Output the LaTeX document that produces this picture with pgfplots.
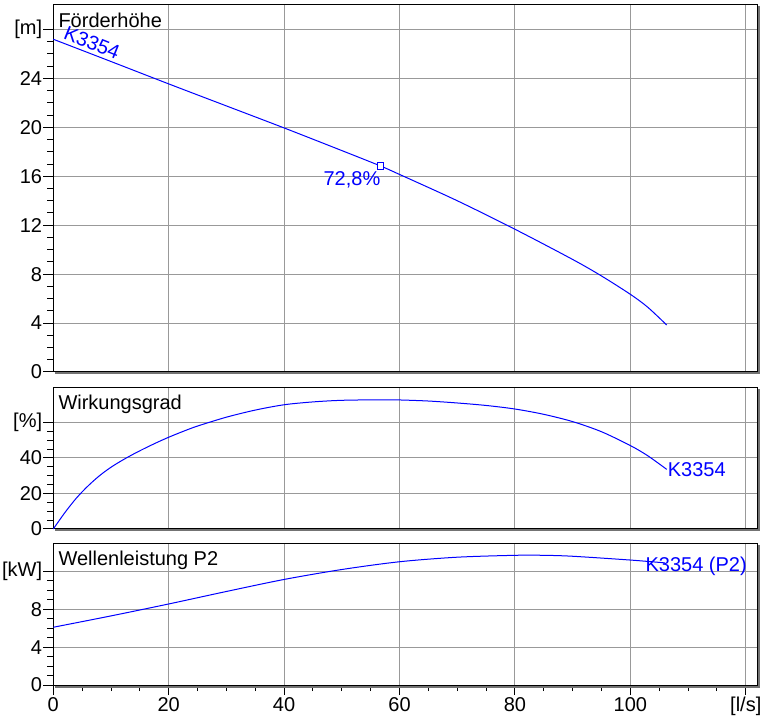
\documentclass[border=0pt]{standalone}
\usepackage{pgfplots}
\pgfplotsset{compat=1.18}
\usepackage{fontspec}
\setmainfont{Liberation Sans}

\pgfplotsset{
  panel/.style={
    scale only axis, width=704pt, xmin=0, xmax=122,
    anchor=north west,
    font=\fontsize{20}{23}\selectfont,
    axis line style={black, line width=1pt},
    grid=major,
    major grid style={line width=1pt, color=black!40},
    ytick pos=left, xtick pos=bottom,
    tick align=outside,
    major tick length=10pt, minor tick length=6pt,
    tick style={black, line width=1pt},
    minor y tick num=3,
    xtick={0,20,...,120},
    yticklabel style={inner xsep=1pt},
    xticklabel style={inner ysep=2pt},
    clip=false,
    after end axis/.code={
      \draw[line width=2pt, color=black!55]
        ([shift={(1.5pt,-1.5pt)}]rel axis cs:0,0) --
        ([shift={(1.5pt,-1.5pt)}]rel axis cs:1,0) --
        ([shift={(1.5pt,-1.5pt)}]rel axis cs:1,1);
    },
  },
  pumpcurve/.style={blue, line width=1pt, smooth, mark=none},
}
\tikzset{paneltitle/.style={anchor=north west, inner sep=0pt, xshift=5pt, yshift=-8pt}}

\begin{document}
\begin{tikzpicture}
\useasboundingbox (0,0) rectangle (774pt,-722pt);

% Foerderhoehe
\begin{axis}[panel, at={(53.3pt,-5pt)}, height=367pt,
  ymin=0, ymax=30, ytick={0,4,...,28},
  yticklabels={0,4,8,12,16,20,24,{[m]}},
  xticklabels={}, major x tick style={draw=none}]
\addplot[pumpcurve] coordinates {
(0,27.2)(10,25.38)(20,23.55)(30,21.75)(40,19.95)(50,18.1)(56.7,16.84)
(60,16.15)(70,14.0)(80,11.67)(90,9.2)(95,7.85)(100,6.35)(103,5.3)(106.3,3.84)};
\addplot[only marks, mark=square*, mark size=3.3pt, blue, fill=white,
  mark options={line width=1pt}] coordinates {(56.7,16.84)};
\node[paneltitle] at (rel axis cs:0,1) {Förderhöhe};
\node[blue, rotate=-22, inner sep=0pt] at (axis cs:6.7,26.9) {K3354};
\node[blue, anchor=north east, inner sep=0pt, yshift=-5pt] at (axis cs:56.7,16.84) {72,8\%};
\end{axis}

% Wirkungsgrad
\begin{axis}[panel, at={(53.3pt,-387pt)}, height=142pt,
  ymin=0, ymax=80, ytick={0,20,40,60},
  yticklabels={0,20,40,{[\%]}},
  xticklabels={}, major x tick style={draw=none}]
\addplot[pumpcurve] coordinates {
(0,0)(2,9.2)(4,17.4)(6,24.2)(8,30.0)(10,34.8)(12,38.8)(14,42.4)(16,45.7)
(18,48.8)(20,51.7)(22.5,55.0)(25,58.0)(30,63.0)(35,67.0)(40,70.0)(45,71.6)
(50,72.5)(56.6,72.8)(60,72.7)(65,72.1)(70,71.0)(75,69.6)(80,67.6)(85,64.6)
(90,60.5)(95,54.8)(100,47.0)(103,41.3)(106.3,33.6)};
\node[paneltitle] at (rel axis cs:0,1) {Wirkungsgrad};
\node[blue, anchor=west, inner sep=0pt, xshift=1pt] at (axis cs:106.3,33.6) {K3354};
\end{axis}

% Wellenleistung
\begin{axis}[panel, at={(53.3pt,-543pt)}, height=142pt,
  ymin=0, ymax=15, ytick={0,4,8,12},
  yticklabels={0,4,8,{[kW]}},
  xticklabels={0,20,40,60,80,100,{[l/s]}},
  minor x tick num=3]
\addplot[pumpcurve] coordinates {
(0,6.1)(10,7.3)(20,8.56)(30,9.88)(40,11.15)(50,12.2)(60,13.02)(70,13.5)
(80,13.7)(85,13.7)(90,13.6)(100,13.2)(106,12.9)};
\node[paneltitle] at (rel axis cs:0,1) {Wellenleistung P2};
\node[blue, anchor=base west, inner sep=0pt] at (axis cs:102.6,12.04) {K3354 (P2)};
\end{axis}
\end{tikzpicture}
\end{document}
